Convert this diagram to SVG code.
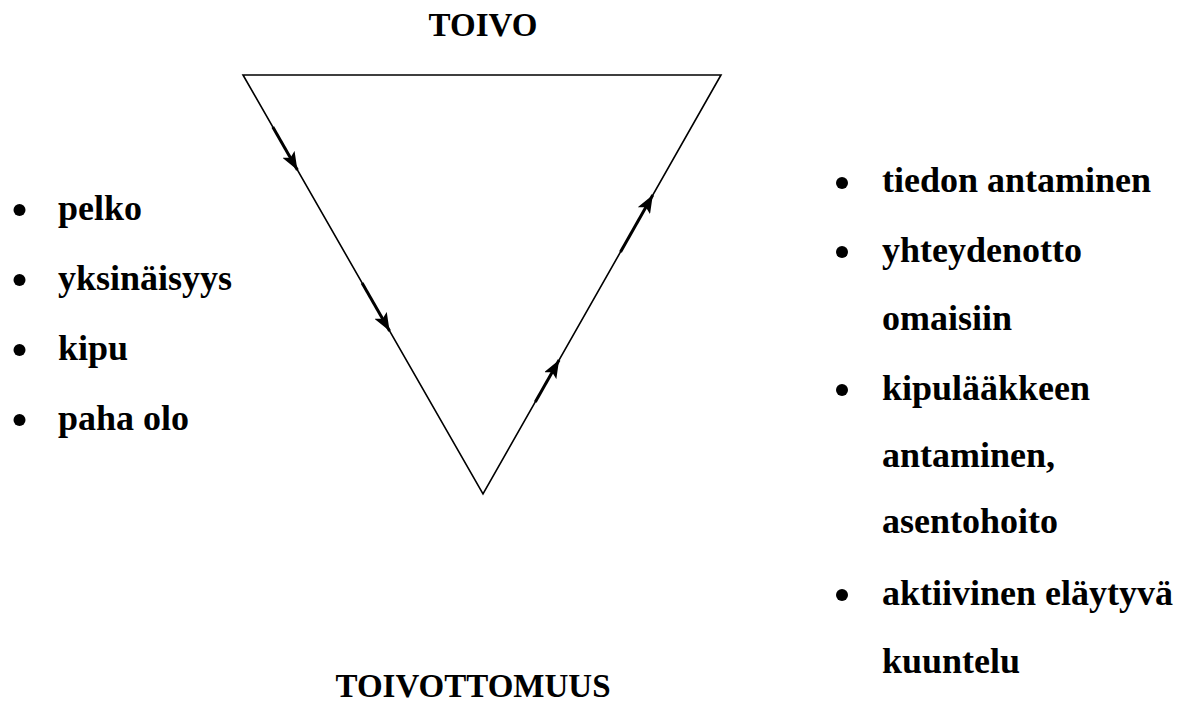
<svg xmlns="http://www.w3.org/2000/svg" width="1194" height="704" viewBox="0 0 1194 704">
<style>
.t{font-family:'Liberation Serif','Times New Roman',serif;font-weight:bold;fill:#000}
.b{font-size:36px}
.h{font-size:33px}
.edge{stroke:#000;stroke-width:1.6;fill:none}
.arr{stroke:#000;stroke-width:3;fill:none;marker-end:url(#ah)}
.dot{fill:#000}
</style>
<defs>
<marker id="ah" markerUnits="userSpaceOnUse" markerWidth="20" markerHeight="14" viewBox="0 0 20 14" refX="18" refY="7" orient="auto">
<path d="M0,0 L18,7 L0,14 L4,7 Z" fill="#000"/>
</marker>
</defs>
<rect width="1194" height="704" fill="#fff"/>
<g id="toivo"><text class="t h" x="483" y="36" text-anchor="middle">TOIVO</text></g>
<g id="toivottomuus"><text class="t h" x="473" y="697" text-anchor="middle">TOIVOTTOMUUS</text></g>
<g id="triangle"><path class="edge" d="M243,75 L721,75 L483,494 Z"/></g>
<g id="connectors">
<line class="arr" x1="272.8" y1="127" x2="297.4" y2="170"/>
<line class="arr" x1="362.1" y1="283" x2="389.6" y2="331"/>
<line class="arr" x1="535.3" y1="402" x2="559.1" y2="360"/>
<line class="arr" x1="620.5" y1="252" x2="652.8" y2="195"/>
</g>
<g id="left-list">
<circle class="dot" cx="19.5" cy="210" r="6"/><text class="t b" x="58" y="220">pelko</text>
<circle class="dot" cx="19.5" cy="280" r="6"/><text class="t b" x="58" y="290">yksinäisyys</text>
<circle class="dot" cx="19.5" cy="350" r="6"/><text class="t b" x="58" y="360">kipu</text>
<circle class="dot" cx="19.5" cy="420" r="6"/><text class="t b" x="58" y="430">paha olo</text>
</g>
<g id="right-list">
<circle class="dot" cx="842" cy="183" r="6"/><text class="t b" x="882" y="192">tiedon antaminen</text>
<circle class="dot" cx="842" cy="252" r="6"/><text class="t b" x="882" y="262">yhteydenotto</text>
<text class="t b" x="882" y="330">omaisiin</text>
<circle class="dot" cx="842" cy="390" r="6"/><text class="t b" x="882" y="400">kipulääkkeen</text>
<text class="t b" x="882" y="467">antaminen,</text>
<text class="t b" x="882" y="533">asentohoito</text>
<circle class="dot" cx="842" cy="595" r="6"/><text class="t b" x="882" y="605">aktiivinen eläytyvä</text>
<text class="t b" x="882" y="673">kuuntelu</text>
</g>
</svg>
